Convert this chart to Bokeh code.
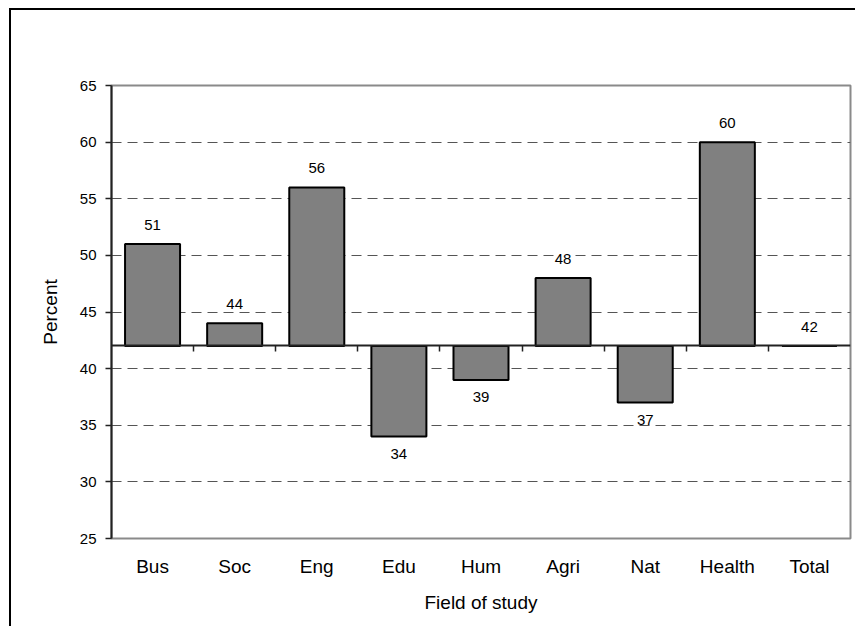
from bokeh.plotting import figure
from bokeh.models import (ColumnDataSource, Range1d, FixedTicker, LinearAxis, LabelSet)
from bokeh.core.properties import value
from bokeh.embed import file_html
from bokeh.resources import INLINE

categories = ["Bus", "Soc", "Eng", "Edu", "Hum", "Agri", "Nat", "Health", "Total"]
values = [51, 44, 56, 34, 39, 48, 37, 60, 42]
reference = 42
y_ticks = [25, 30, 35, 40, 45, 50, 55, 60, 65]

FONT = "Liberation Sans"

positions = [i + 0.5 for i in range(len(categories))]
boundaries = [i for i in range(1, len(categories))]
labels = [str(v) for v in values]
offsets = [14 if v >= reference else -22 for v in values]

src = ColumnDataSource(dict(x=positions, top=values, bottom=[reference] * len(values),
                            label=labels, yoff=offsets))

p = figure(width=855, height=626, output_backend="svg", toolbar_location=None,
           x_range=Range1d(0, len(categories)), y_range=Range1d(y_ticks[0], y_ticks[-1]),
           min_border_left=111, min_border_top=85, min_border_right=5, min_border_bottom=88,
           background_fill_color="white", border_fill_color=None)
# outer chart border (only its top and left edges fall inside the view)
p.styles = {"background": "linear-gradient(#000, #000) 9px 8px / 2px 100% no-repeat, "
                          "linear-gradient(#000, #000) 9px 8px / 100% 2px no-repeat, white"}

p.outline_line_color = "#8a8a8a"
p.outline_line_width = 2

# grid
p.xgrid.visible = False
p.ygrid.ticker = FixedTicker(ticks=y_ticks[1:-1])
p.ygrid.grid_line_color = "#555555"
p.ygrid.grid_line_width = 1
p.ygrid.grid_line_dash = "10 6"

# y axis
yax = p.yaxis[0]
yax.ticker = FixedTicker(ticks=y_ticks)
yax.axis_line_color = "#222222"
yax.axis_line_width = 2
yax.major_tick_out = 6
yax.major_tick_in = 0
yax.major_tick_line_color = "#222222"
yax.major_tick_line_width = 1.5
yax.minor_tick_line_color = None
yax.major_label_text_font = FONT
yax.major_label_text_font_size = "15px"
yax.major_label_text_color = "black"
yax.major_label_standoff = 9
yax.axis_label = "Percent"
yax.axis_label_text_font = FONT
yax.axis_label_text_font_size = "19px"
yax.axis_label_text_font_style = "normal"
yax.axis_label_text_color = "black"
yax.axis_label_standoff = 16

# x axis (category labels)
xax = p.xaxis[0]
xax.ticker = FixedTicker(ticks=positions)
xax.major_label_overrides = {pos: name for pos, name in zip(positions, categories)}
xax.axis_line_color = None
xax.major_tick_line_color = None
xax.minor_tick_line_color = None
xax.major_label_text_font = FONT
xax.major_label_text_font_size = "19px"
xax.major_label_text_color = "black"
xax.major_label_standoff = 11
xax.axis_label = "Field of study"
xax.axis_label_text_font = FONT
xax.axis_label_text_font_size = "19px"
xax.axis_label_text_font_style = "normal"
xax.axis_label_text_color = "black"
xax.axis_label_standoff = 12

# bars
p.vbar(x="x", top="top", bottom="bottom", width=0.67, source=src,
       fill_color="#808080", line_color="black", line_width=2)

# baseline axis at the reference value with ticks between categories
base = LinearAxis(fixed_location=reference, ticker=FixedTicker(ticks=boundaries),
                  major_label_overrides={b: "" for b in boundaries})
base.axis_line_color = "#222222"
base.axis_line_width = 2
base.major_tick_out = 6
base.major_tick_in = 0
base.major_tick_line_color = "#222222"
base.major_tick_line_width = 1.5
base.minor_tick_line_color = None
base.major_label_text_font_size = "0px"
p.add_layout(base, "below")

# value labels
lab = LabelSet(x="x", y="top", text="label", y_offset="yoff", source=src,
               text_align="center", text_baseline="alphabetic",
               text_font=value(FONT), text_font_size="15px", text_color="black",
               background_fill_color="white")
p.add_layout(lab)

open("out.html", "w").write(file_html(p, INLINE))
